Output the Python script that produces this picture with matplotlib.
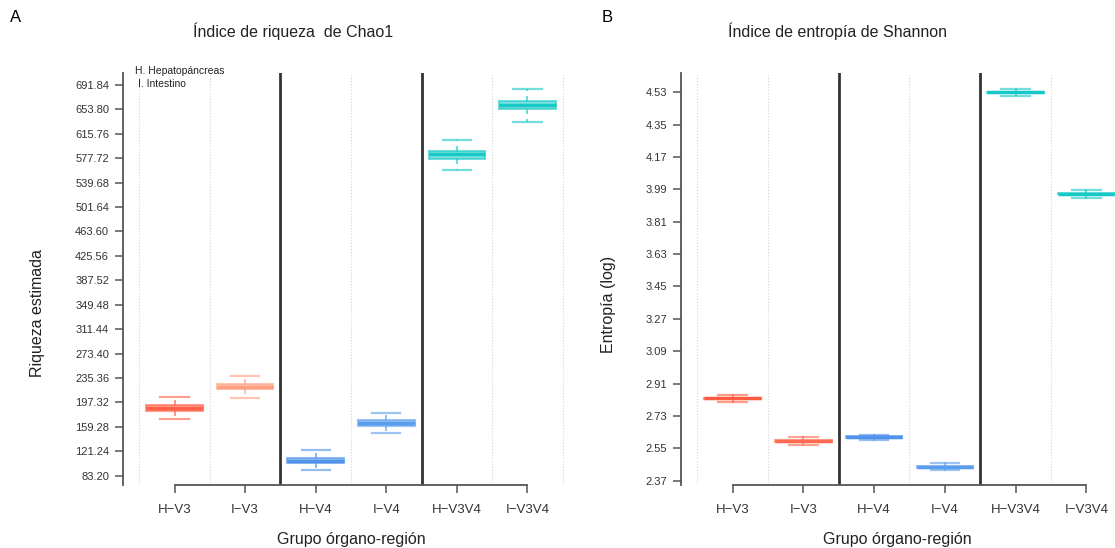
import numpy as np
import matplotlib.pyplot as plt

plt.rcParams['font.family'] = ['Liberation Sans', 'DejaVu Sans']

grupos = ['H\u2212V3', 'I\u2212V3', 'H\u2212V4', 'I\u2212V4', 'H\u2212V3V4', 'I\u2212V3V4']
colores_chao = ['#ff5f45', '#ff9f80', '#4f93ea', '#5a9cee', '#17c9c6', '#17c9c6']
colores_shan = ['#ff5a40', '#ff6a50', '#4f93ea', '#5a9cee', '#17c9c6', '#17c9c6']

# Chao1 (bigotes y cuartiles por grupo)
chao_lo = [171.4, 204.1, 91.6, 149.7, 560.1, 634.9]
chao_q1 = [183.4, 217.7, 102.5, 160.6, 576.6, 654.0]
chao_med = [188.1, 221.6, 106.5, 165.2, 583.9, 660.7]
chao_q3 = [192.8, 225.5, 110.8, 170.0, 589.0, 666.9]
chao_hi = [205.7, 238.4, 122.7, 181.3, 605.7, 685.6]
chao_ticks = [83.20, 121.24, 159.28, 197.32, 235.36, 273.40, 311.44, 349.48,
              387.52, 425.56, 463.60, 501.64, 539.68, 577.72, 615.76, 653.80, 691.84]

# Shannon
shan_lo = [2.806, 2.569, 2.596, 2.428, 4.509, 3.944]
shan_q1 = [2.824, 2.587, 2.609, 2.442, 4.526, 3.962]
shan_med = [2.828, 2.591, 2.613, 2.446, 4.530, 3.966]
shan_q3 = [2.832, 2.595, 2.617, 2.450, 4.534, 3.970]
shan_hi = [2.846, 2.613, 2.626, 2.468, 4.550, 3.985]
shan_ticks = [2.37, 2.55, 2.73, 2.91, 3.09, 3.27, 3.45, 3.63, 3.81, 3.99, 4.17, 4.35, 4.53]

W, H = 1115, 548
fig = plt.figure(figsize=(W / 100, H / 100), dpi=100)


def panel(left, right, ylim, ticks, lo, q1, med, q3, hi, colores, ylabel, dashed):
    ax = fig.add_axes([left / W, (H - 485) / H, (right - left) / W, (485 - 73) / H])
    pos = np.arange(1, len(grupos) + 1)
    for x in [0.5, 1.5, 3.5, 5.5, 6.5]:
        ax.axvline(x, color='#d4d4d4', lw=0.8, ls=':', zorder=0)
    for x in [2.5, 4.5]:
        ax.axvline(x, color='#333333', lw=2, zorder=1)
    for i in range(len(grupos)):
        c = colores[i]
        st = [dict(whislo=lo[i], q1=q1[i], med=med[i], q3=q3[i], whishi=hi[i], fliers=[])]
        ax.bxp(st, positions=[pos[i]], widths=0.8, capwidths=0.4, patch_artist=True,
               showfliers=False, manage_ticks=False,
               boxprops=dict(facecolor=(c, 0.55), edgecolor=(c, 0.6), lw=1.5),
               medianprops=dict(color=c, lw=2.5),
               whiskerprops=dict(color=(c, 0.75), lw=1.2, ls=(0, (3, 3)) if dashed else '-'),
               capprops=dict(color=(c, 0.6), lw=1.6))
    ax.set_xlim(0.27, 6.73)
    ax.set_ylim(*ylim)
    ax.set_xticks(pos)
    ax.set_xticklabels(grupos)
    ax.set_yticks(ticks)
    ax.set_yticklabels(['%.2f' % t for t in ticks])
    for s in ['top', 'right']:
        ax.spines[s].set_visible(False)
    for s in ['left', 'bottom']:
        ax.spines[s].set_color('#555555')
        ax.spines[s].set_linewidth(1.3)
    ax.spines['bottom'].set_bounds(1, 6)
    ax.tick_params(axis='both', direction='out', length=6, width=1.1, color='#555555',
                   labelcolor='#333333')
    ax.tick_params(axis='y', labelsize=8, pad=4)
    ax.tick_params(axis='x', labelsize=9.5, pad=8)
    ax.set_xlabel('Grupo órgano-región', fontsize=11.5, color='#222222')
    ax.set_ylabel(ylabel, fontsize=11.5, color='#222222')
    return ax


axA = panel(123, 579, (68.7, 710.5), chao_ticks, chao_lo, chao_q1, chao_med, chao_q3, chao_hi,
            colores_chao, 'Riqueza estimada', True)
axB = panel(681, 1138, (2.346, 4.637), shan_ticks, shan_lo, shan_q1, shan_med, shan_q3, shan_hi,
            colores_shan, 'Entropía (log)', False)

axA.xaxis.set_label_coords(0.5, -0.115)
axB.xaxis.set_label_coords((897 - 681) / (1138 - 681), -0.115)
axA.yaxis.set_label_coords((45 - 123) / (579 - 123), (485 - 313) / 412)
axB.yaxis.set_label_coords((616 - 681) / (1138 - 681), (485 - 304) / 412)

fig.text(135 / W, 1 - 71 / H, 'H. Hepatopáncreas', fontsize=7.5, color='#222222', va='center')
fig.text(138 / W, 1 - 84 / H, 'I. Intestino', fontsize=7.5, color='#222222', va='center')

fig.text(16 / W, 1 - 18 / H, 'A', fontsize=12, va='center', ha='center')
fig.text(607 / W, 1 - 18 / H, 'B', fontsize=12, va='center', ha='center')
fig.text(293 / W, 1 - 31 / H, 'Índice de riqueza  de Chao1', fontsize=11.5, va='center', ha='center',
         color='#222222')
fig.text(837 / W, 1 - 31 / H, 'Índice de entropía de Shannon', fontsize=11.5, va='center', ha='center',
         color='#222222')

fig.savefig('out.png', dpi=100)
